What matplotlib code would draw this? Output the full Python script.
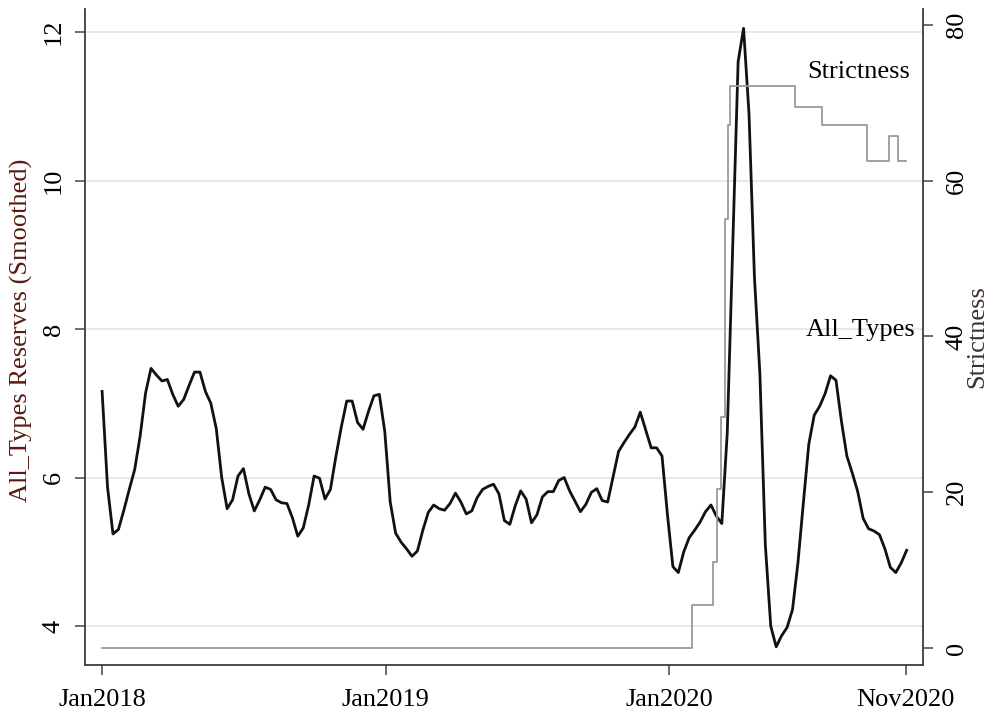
import numpy as np
import pandas as pd
import matplotlib
matplotlib.use('Agg')
import matplotlib.pyplot as plt
import matplotlib.dates as mdates

plt.rcParams['font.family'] = ['Liberation Serif', 'DejaVu Serif']
plt.rcParams['font.size'] = 19

# weekly smoothed reserves, starting 1 Jan 2018
start = '2018-01-01'
reserves = [7.16, 5.87, 5.24, 5.30, 5.56, 5.84, 6.11, 6.56, 7.14, 7.47,
            7.38, 7.30, 7.32, 7.12, 6.96, 7.05, 7.24, 7.42, 7.42, 7.16,
            7.00, 6.66, 6.00, 5.58, 5.70, 6.02, 6.12, 5.78, 5.55, 5.70,
            5.87, 5.84, 5.70, 5.66, 5.65, 5.46, 5.21, 5.32, 5.63, 6.02,
            5.99, 5.71, 5.84, 6.28, 6.68, 7.03, 7.03, 6.74, 6.65, 6.89,
            7.10, 7.12, 6.62, 5.67, 5.25, 5.13, 5.04, 4.94, 5.01, 5.29,
            5.53, 5.63, 5.58, 5.56, 5.65, 5.79, 5.67, 5.51, 5.55, 5.73,
            5.84, 5.88, 5.91, 5.78, 5.42, 5.37, 5.62, 5.82, 5.71, 5.39,
            5.50, 5.74, 5.81, 5.81, 5.96, 6.00, 5.82, 5.68, 5.54, 5.64,
            5.80, 5.85, 5.69, 5.67, 6.01, 6.35, 6.47, 6.58, 6.68, 6.88,
            6.64, 6.40, 6.40, 6.29, 5.50, 4.80, 4.72, 5.00, 5.19, 5.29,
            5.40, 5.54, 5.63, 5.48, 5.38, 6.60, 9.10, 11.60, 12.05, 10.90,
            8.70, 7.40, 5.10, 4.00, 3.72, 3.87, 3.98, 4.22, 4.85, 5.66,
            6.45, 6.84, 6.96, 7.13, 7.37, 7.31, 6.76, 6.29, 6.06, 5.81,
            5.45, 5.31, 5.28, 5.23, 5.04, 4.79, 4.72, 4.85, 5.02]

# stringency index, change points
strict_dates = ['2018-01-01', '2020-01-30', '2020-02-27', '2020-03-03',
                '2020-03-08', '2020-03-13', '2020-03-17', '2020-03-20',
                '2020-06-11', '2020-07-16', '2020-09-12', '2020-10-10',
                '2020-10-22', '2020-11-01']
strict_vals = [0, 5.56, 11.11, 20.37, 29.63, 55.09, 67.13, 72.22,
               69.44, 67.13, 62.50, 65.74, 62.50, 62.50]

xticks = ['2018-01-01', '2019-01-01', '2020-01-01', '2020-11-01']

dates = pd.date_range(start, periods=len(reserves), freq='7D')
sdates = pd.to_datetime(strict_dates)

fig = plt.figure(figsize=(9.92, 7.13), dpi=100)
ax = fig.add_axes([0.0857, 0.0673, 0.8447, 0.9201])
ax2 = ax.twinx()

ax.yaxis.grid(True, color='#e6e6e6', lw=1.3)
ax.set_axisbelow(True)

ax.plot(dates, reserves, color='#111111', lw=2.0, solid_joinstyle='round')
ax2.step(sdates, strict_vals, where='post', color='#9a9a9a', lw=1.3)

ax.set_xlim(pd.Timestamp('2017-12-10'), pd.Timestamp('2020-11-23'))
ax.set_ylim(3.475, 12.31)
ax2.set_ylim(-2.18, 82.05)

ax.set_yticks([4, 6, 8, 10, 12])
ax2.set_yticks([0, 20, 40, 60, 80])
ax.set_xticks(pd.to_datetime(xticks))
ax.xaxis.set_major_formatter(mdates.DateFormatter('%b%Y'))

for a in (ax, ax2):
    a.spines['top'].set_visible(False)
    for s in ('left', 'right', 'bottom'):
        a.spines[s].set_color('#444444')
        a.spines[s].set_linewidth(1.1)
    a.tick_params(length=7.5, width=1.1, color='#444444')

ax.tick_params(axis='y', labelrotation=90, pad=7)
ax2.tick_params(axis='y', labelrotation=90, pad=9)
ax.tick_params(axis='x', pad=10)
for t in ax.get_yticklabels() + ax2.get_yticklabels():
    t.set_va('center')

fig.text(21 / 992, 1 - 330 / 713, 'All_Types Reserves (Smoothed)',
         rotation=90, ha='center', va='center', color='#5a1a10')
fig.text(977 / 992, 1 - 337 / 713, 'Strictness',
         rotation=90, ha='center', va='center', color='#3e302b')

ax2.text(pd.Timestamp('2020-11-07'), 73.2, 'Strictness', ha='right', va='baseline')
ax.text(pd.Timestamp('2020-11-14'), 7.90, 'All_Types', ha='right', va='baseline')

fig.savefig('out.png', dpi=100)
